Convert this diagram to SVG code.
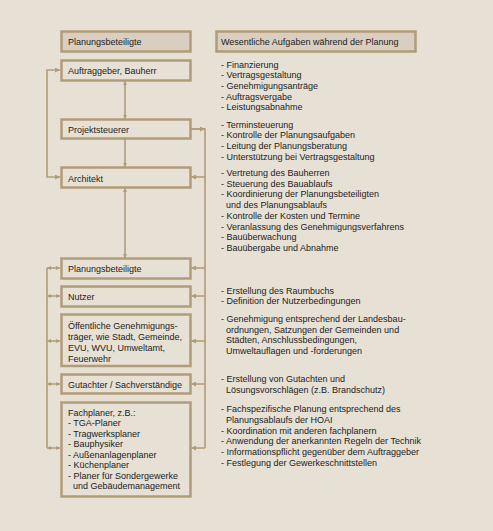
<svg xmlns="http://www.w3.org/2000/svg" width="493" height="531" viewBox="0 0 493 531">
<defs>
<style>
.bg{fill:#e7e0d5}
.box{fill:#e7e0d5;stroke:#b19c7a;stroke-width:2.5}
.hdr{fill:#d9cebf;stroke:#b19c7a;stroke-width:2.5}
.ln{fill:none;stroke:#b19c7a;stroke-width:1.6}
text{font-family:"Liberation Sans",Arial,sans-serif;font-size:9px;fill:#1c1c1c}
</style>
<marker id="ah" viewBox="0 0 6 6" refX="6" refY="3" markerWidth="5" markerHeight="5" markerUnits="userSpaceOnUse" orient="auto-start-reverse">
<path d="M0,0 L6,3 L0,6 Z" fill="#b19c7a"/>
</marker>
<marker id="sm" viewBox="0 0 6 6" refX="6" refY="3" markerWidth="4" markerHeight="4" markerUnits="userSpaceOnUse" orient="auto-start-reverse">
<path d="M0,0 L6,3 L0,6 Z" fill="#b19c7a"/>
</marker>
</defs>
<rect class="bg" x="0" y="0" width="493" height="531"/>

<g id="connectors">
<path class="ln" d="M125,81 V119" marker-start="url(#sm)" marker-end="url(#sm)"/>
<path class="ln" d="M125,139 V167" marker-end="url(#sm)"/>
<path class="ln" d="M125,188 V258" marker-start="url(#sm)" marker-end="url(#sm)"/>
<path class="ln" d="M60,70 H47 V177 H60" marker-start="url(#ah)" marker-end="url(#ah)"/>
<path class="ln" d="M191,129 H205 V448"/>
<path class="ln" d="M191,129 H205" marker-end="url(#ah)"/>
<path class="ln" d="M205,177 H191" marker-end="url(#ah)"/>
<path class="ln" d="M205,268 H191" marker-end="url(#ah)"/>
<path class="ln" d="M205,296 H191" marker-end="url(#ah)"/>
<path class="ln" d="M205,341 H191" marker-end="url(#ah)"/>
<path class="ln" d="M205,384 H191" marker-end="url(#ah)"/>
<path class="ln" d="M205,448 H191" marker-end="url(#ah)"/>
<path class="ln" d="M47,268 V448"/>
<path class="ln" d="M47,268 H60" marker-start="url(#sm)" marker-end="url(#sm)"/>
<path class="ln" d="M47,296 H60" marker-start="url(#sm)" marker-end="url(#sm)"/>
<path class="ln" d="M47,341 H60" marker-start="url(#sm)" marker-end="url(#sm)"/>
<path class="ln" d="M47,384 H60" marker-start="url(#sm)" marker-end="url(#sm)"/>
<path class="ln" d="M47,448 H60" marker-start="url(#sm)" marker-end="url(#sm)"/>
</g>

<g id="hdr-left"><rect class="hdr" x="61.5" y="31.5" width="129" height="20"/><text x="68" y="45">Planungsbeteiligte</text></g>
<g id="hdr-right"><rect class="hdr" x="216.5" y="31.5" width="199" height="20"/><text x="221" y="45">Wesentliche Aufgaben während der Planung</text></g>

<g id="auftraggeber"><rect class="box" x="61.5" y="60.5" width="129" height="20"/><text x="68" y="73.5">Auftraggeber, Bauherr</text></g>
<g id="projektsteuerer"><rect class="box" x="61.5" y="119.5" width="129" height="19"/><text x="68" y="132.5">Projektsteuerer</text></g>
<g id="architekt"><rect class="box" x="61.5" y="167.5" width="129" height="20"/><text x="68" y="181.5">Architekt</text></g>
<g id="planungsbeteiligte"><rect class="box" x="61.5" y="258.5" width="129" height="20"/><text x="68" y="271.5">Planungsbeteiligte</text></g>
<g id="nutzer"><rect class="box" x="61.5" y="286.5" width="129" height="20"/><text x="68" y="300">Nutzer</text></g>
<g id="oeffentliche"><rect class="box" x="61.5" y="314.5" width="129" height="51.5"/>
<text x="68" y="328.5">Öffentliche Genehmigungs-</text>
<text x="68" y="340">träger, wie Stadt, Gemeinde,</text>
<text x="68" y="351">EVU, WVU, Umweltamt,</text>
<text x="68" y="361.5">Feuerwehr</text></g>
<g id="gutachter"><rect class="box" x="61.5" y="374.5" width="129" height="19"/><text x="68" y="388">Gutachter / Sachverständige</text></g>
<g id="fachplaner"><rect class="box" x="61.5" y="402.5" width="129" height="94"/>
<text x="68" y="415.5">Fachplaner, z.B.:</text>
<text x="68" y="426">- TGA-Planer</text>
<text x="68" y="436.5">- Tragwerksplaner</text>
<text x="68" y="447">- Bauphysiker</text>
<text x="68" y="457.5">- Außenanlagenplaner</text>
<text x="68" y="468">- Küchenplaner</text>
<text x="68" y="478.5">- Planer für Sondergewerke</text>
<text x="73" y="489">und Gebäudemanagement</text></g>

<g id="aufgaben">
<text x="221" y="67.5">- Finanzierung</text>
<text x="221" y="78">- Vertragsgestaltung</text>
<text x="221" y="89">- Genehmigungsanträge</text>
<text x="221" y="99.5">- Auftragsvergabe</text>
<text x="221" y="110">- Leistungsabnahme</text>
<text x="221" y="127.5">- Terminsteuerung</text>
<text x="221" y="138">- Kontrolle der Planungsaufgaben</text>
<text x="221" y="148.5">- Leitung der Planungsberatung</text>
<text x="221" y="159.5">- Unterstützung bei Vertragsgestaltung</text>
<text x="221" y="175.5">- Vertretung des Bauherren</text>
<text x="221" y="186.5">- Steuerung des Bauablaufs</text>
<text x="221" y="197">- Koordinierung der Planungsbeteiligten</text>
<text x="226" y="208">und des Planungsablaufs</text>
<text x="221" y="219">- Kontrolle der Kosten und Termine</text>
<text x="221" y="229.5">- Veranlassung des Genehmigungsverfahrens</text>
<text x="221" y="240">- Bauüberwachung</text>
<text x="221" y="251">- Bauübergabe und Abnahme</text>
<text x="221" y="293.5">- Erstellung des Raumbuchs</text>
<text x="221" y="304">- Definition der Nutzerbedingungen</text>
<text x="221" y="321.5">- Genehmigung entsprechend der Landesbau-</text>
<text x="226" y="332.5">ordnungen, Satzungen der Gemeinden und</text>
<text x="226" y="343">Städten, Anschlussbedingungen,</text>
<text x="226" y="354">Umweltauflagen  und -forderungen</text>
<text x="221" y="381.5">- Erstellung von Gutachten und</text>
<text x="226" y="392.5">Lösungsvorschlägen (z.B. Brandschutz)</text>
<text x="221" y="411.5">- Fachspezifische Planung entsprechend des</text>
<text x="226" y="422.5">Planungsablaufs der HOAI</text>
<text x="221" y="433.5">- Koordination mit anderen fachplanern</text>
<text x="221" y="444">- Anwendung der anerkannten Regeln der Technik</text>
<text x="221" y="454.5">- Informationspflicht gegenüber dem Auftraggeber</text>
<text x="221" y="465.5">- Festlegung der Gewerkeschnittstellen</text>
</g>
</svg>
